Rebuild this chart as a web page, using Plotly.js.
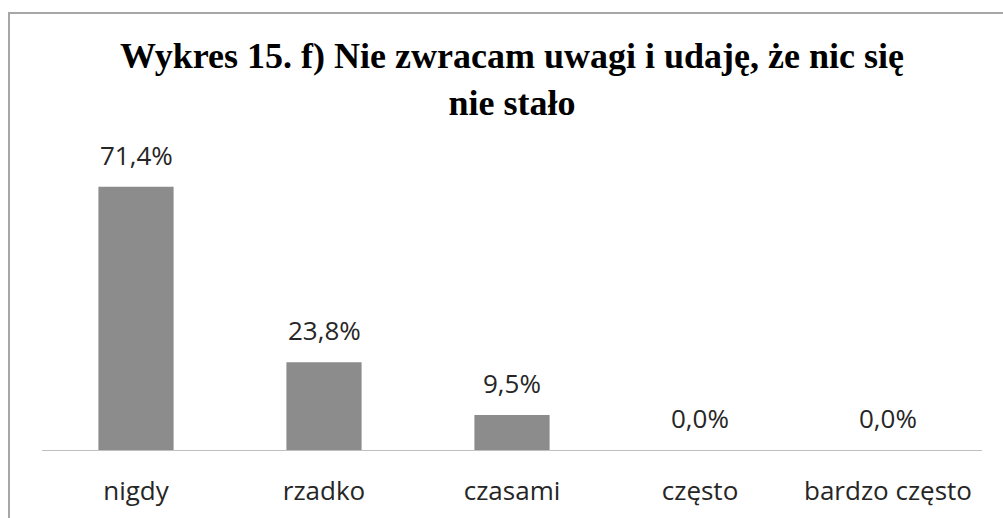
<!DOCTYPE html>
<html>
<head>
<meta charset="utf-8">
<script src="https://cdn.plot.ly/plotly-3.0.1.min.js"></script>
<style>
body { margin:0; padding:0; background:#fff; }
#wrap { position:relative; width:1003px; height:518px; }
#chart { position:absolute; left:0; top:0; width:1003px; height:518px; }
#frame { position:absolute; left:8px; top:12px; width:1000px; height:520px; border-left:2px solid #a6a6a6; border-top:2px solid #a6a6a6; pointer-events:none; }
</style>
</head>
<body>
<div id="wrap"><div id="chart"></div><div id="frame"></div></div>
<script>
const categories = ["nigdy", "rzadko", "czasami", "często", "bardzo często"];
const values = [71.4, 23.8, 9.5, 0.0, 0.0];
const valueLabels = ["71,4%", "23,8%", "9,5%", "0,0%", "0,0%"];
const chartTitle = "Wykres 15. f) Nie zwracam uwagi i udaję, że nic się<br>nie stało";

const trace = {
  type: "bar",
  x: categories,
  y: values,
  marker: { color: "#8c8c8c" },
  hoverinfo: "none"
};

const annotations = categories.map((c, i) => ({
  x: c, y: values[i], xref: "x", yref: "y",
  text: valueLabels[i], showarrow: false,
  yanchor: "bottom", yshift: 12,
  font: { family: "Open Sans", size: 26, color: "#262626" }
}));

const layout = {
  width: 1003, height: 518,
  margin: { l: 42, r: 21, t: 155, b: 68 },
  paper_bgcolor: "rgba(0,0,0,0)",
  plot_bgcolor: "#fff",
  bargap: 0.6,
  showlegend: false,
  title: {
    text: chartTitle,
    font: { family: "Liberation Serif", size: 36, color: "#000", weight: "bold" },
    x: 0.5, xref: "paper", xanchor: "center",
    y: 1 - 68/518, yref: "container", yanchor: "top"
  },
  xaxis: {
    showline: true, linecolor: "#bfbfbf", linewidth: 1,
    ticks: "", showgrid: false, zeroline: false,
    tickfont: { family: "Open Sans", size: 26, color: "#262626" },
    ticklabelstandoff: 18
  },
  yaxis: {
    range: [0, 80], visible: false, showgrid: false, zeroline: false
  },
  annotations: annotations
};

Plotly.newPlot("chart", [trace], layout, { displayModeBar: false, staticPlot: true });
</script>
</body>
</html>
